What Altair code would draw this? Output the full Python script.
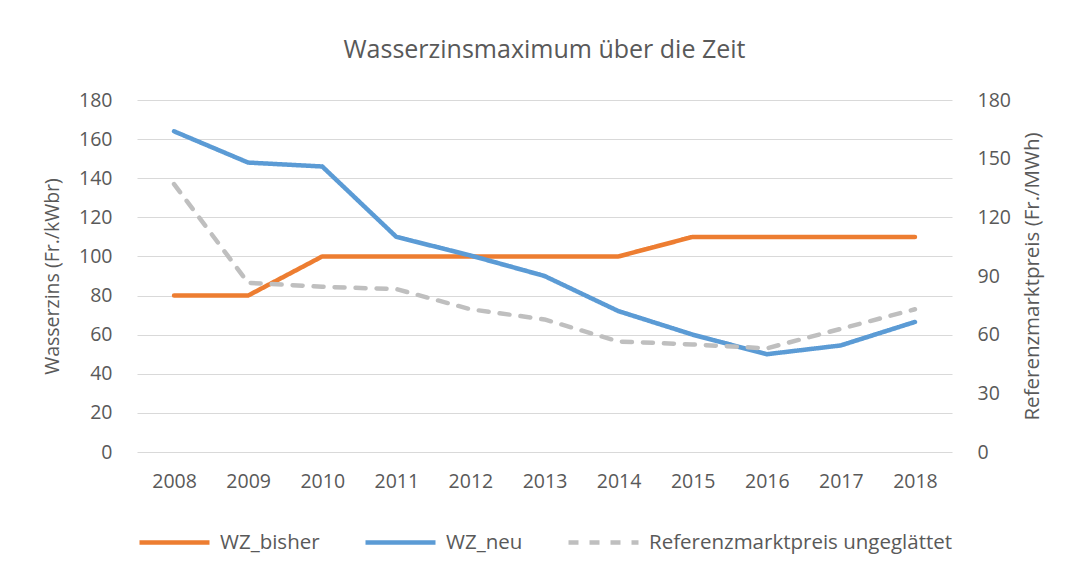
import altair as alt
import pandas as pd

years = ["2008", "2009", "2010", "2011", "2012", "2013", "2014", "2015", "2016", "2017", "2018"]
wz_bisher = [80, 80, 100, 100, 100, 100, 100, 110, 110, 110, 110]
wz_neu = [164, 148, 146, 110, 100.5, 90, 72, 60, 50, 54.5, 66.5]
ref_preis = [137, 86.5, 84.5, 83.3, 73, 67.8, 56.5, 55, 53, 63, 73]

series_names = ["WZ_bisher", "WZ_neu", "Referenzmarktpreis ungeglättet"]
series_colors = ["#ED7D31", "#5B9BD5", "#BFBFBF"]
series_dashes = [[1, 0], [1, 0], [10, 11]]
left_ticks = [0, 20, 40, 60, 80, 100, 120, 140, 160, 180]
right_ticks = [0, 30, 60, 90, 120, 150, 180]

FONT = "Open Sans"
TXT = "#595959"
FS = 19.5

left_df = pd.DataFrame({
    "Jahr": years * 2,
    "Wert": wz_bisher + wz_neu,
    "Serie": [series_names[0]] * len(years) + [series_names[1]] * len(years),
})
right_df = pd.DataFrame({
    "Jahr": years,
    "Wert": ref_preis,
    "Serie": [series_names[2]] * len(years),
})

legend = alt.Legend(
    title=None, orient="bottom", direction="horizontal", symbolType="stroke",
    symbolStrokeWidth=4.5, symbolSize=4900, labelFontSize=20.5, labelColor=TXT,
    labelFont=FONT, columnPadding=36, labelOffset=8, offset=14, labelLimit=400,
)
color = alt.Color("Serie:N", scale=alt.Scale(domain=series_names, range=series_colors), legend=legend)
dash = alt.StrokeDash("Serie:N", scale=alt.Scale(domain=series_names, range=series_dashes), legend=legend)

x = alt.X(
    "Jahr:O", sort=years, scale=alt.Scale(type="point", padding=0.5),
    axis=alt.Axis(title=None, labelAngle=0, ticks=False, domain=False, grid=False,
                  labelFontSize=FS, labelColor=TXT, labelFont=FONT, labelPadding=20),
)

left = alt.Chart(left_df).mark_line(strokeWidth=4.5, strokeCap="round", strokeJoin="round").encode(
    x=x,
    y=alt.Y("Wert:Q", scale=alt.Scale(domain=[0, 180], nice=False),
            axis=alt.Axis(title="Wasserzins (Fr./kWbr)", values=left_ticks, grid=True,
                          gridColor="#D9D9D9", gridWidth=1.2, domain=False, ticks=False,
                          labelFontSize=FS, labelColor=TXT, labelFont=FONT, labelPadding=25,
                          titleFontSize=19.5, titleColor=TXT, titleFont=FONT,
                          titleFontWeight="normal", titlePadding=16)),
    color=color,
    strokeDash=dash,
)

right = alt.Chart(right_df).mark_line(strokeWidth=4.5, strokeCap="round", strokeJoin="round").encode(
    x=x,
    y=alt.Y("Wert:Q", scale=alt.Scale(domain=[0, 180], nice=False),
            axis=alt.Axis(title="Referenzmarktpreis (Fr./MWh)", orient="right", values=right_ticks,
                          grid=False, domain=False, ticks=False, titleAngle=270,
                          titleBaseline="top",
                          labelFontSize=FS, labelColor=TXT, labelFont=FONT, labelPadding=25,
                          titleFontSize=20.5, titleColor=TXT, titleFont=FONT,
                          titleFontWeight="normal", titlePadding=12)),
    color=color,
    strokeDash=dash,
)

chart = alt.layer(left, right).resolve_scale(y="independent").properties(
    width=815, height=352,
    title=alt.TitleParams("Wasserzinsmaximum über die Zeit", fontSize=25, font=FONT,
                          fontWeight="normal", color=TXT, offset=27),
    padding={"left": 34, "top": 30, "right": 10, "bottom": 5},
).configure_view(stroke=None)

chart.save("out.html", embed_options={"renderer": "svg", "actions": False})
